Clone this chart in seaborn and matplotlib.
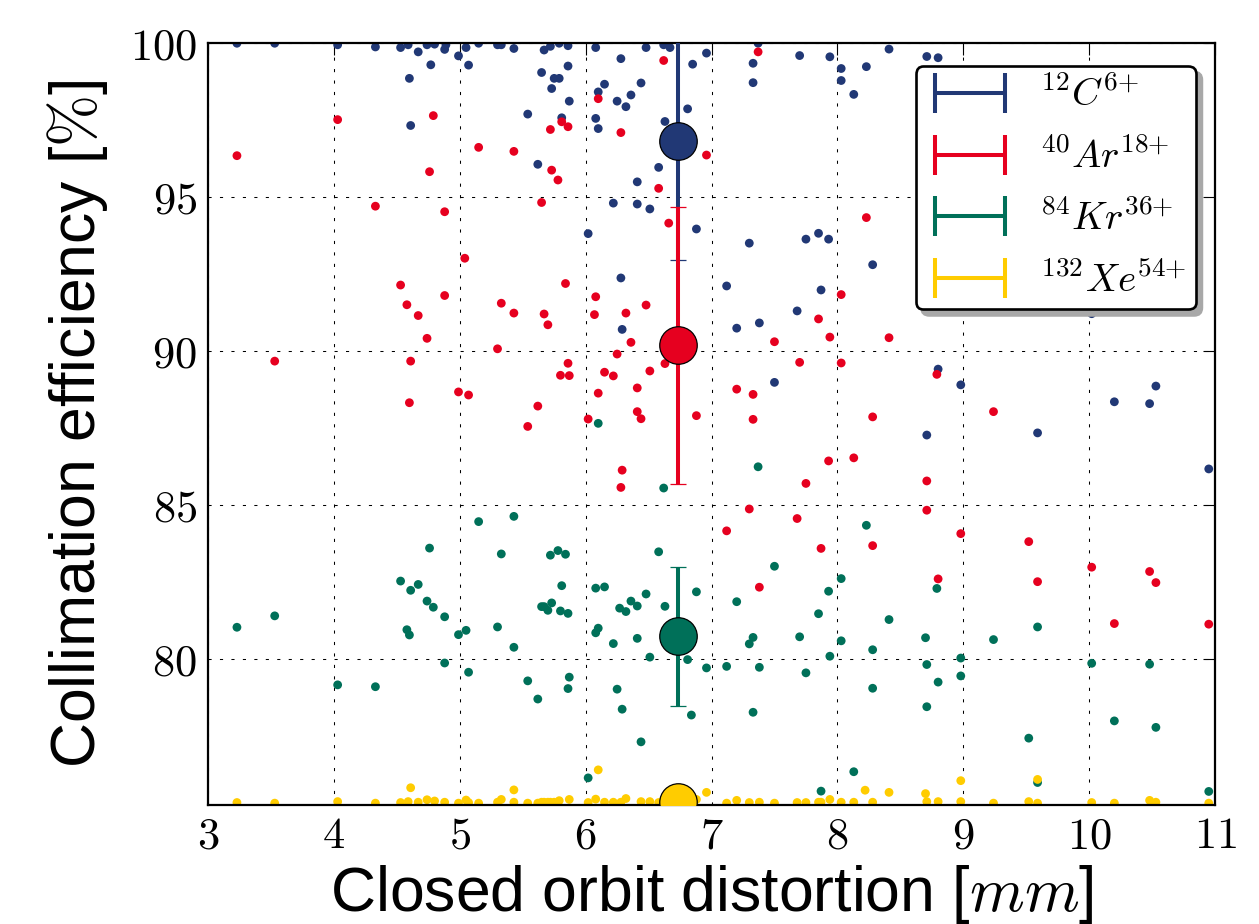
import numpy as np
import pandas as pd
import matplotlib
matplotlib.use("Agg")
import matplotlib.pyplot as plt
from matplotlib.lines import Line2D
from matplotlib.legend_handler import HandlerBase
from matplotlib.ticker import FuncFormatter
import seaborn as sns

# ---- per-seed collimation efficiency (closed orbit distortion [mm], efficiency [%]) ----
carbon_pts = [
    (3.23, 100.0), (3.53, 100.0), (4.03, 99.95), (4.33, 99.88), (4.53, 99.86), (4.59, 99.95),
    (4.60, 98.86), (4.61, 97.33), (4.67, 99.72), (4.74, 99.95), (4.77, 99.30), (4.80, 99.97),
    (4.88, 99.80), (4.89, 99.95), (4.99, 99.59), (5.05, 99.86), (5.07, 99.29), (5.15, 100.0),
    (5.30, 99.95), (5.33, 99.95), (5.43, 99.83), (5.54, 97.70), (5.62, 96.07), (5.65, 99.05),
    (5.67, 99.78), (5.72, 99.90), (5.73, 98.53), (5.75, 98.86), (5.79, 98.86), (5.79, 100.0),
    (5.81, 97.58), (5.86, 99.26), (5.86, 99.92), (5.87, 98.12), (6.02, 93.82), (6.08, 99.86),
    (6.08, 97.56), (6.10, 97.23), (6.10, 98.42), (6.15, 98.67), (6.22, 94.81), (6.25, 98.12),
    (6.28, 99.50), (6.28, 92.38), (6.29, 90.71), (6.32, 97.94), (6.36, 98.32), (6.41, 95.50),
    (6.41, 94.78), (6.44, 98.71), (6.48, 99.86), (6.51, 94.62), (6.58, 95.97), (6.62, 99.95),
    (6.63, 97.46), (6.67, 99.86), (6.81, 97.87), (6.85, 99.32), (6.88, 93.97), (6.96, 99.68),
    (7.12, 92.12), (7.20, 90.75), (7.30, 93.51), (7.33, 99.35), (7.33, 98.72), (7.37, 100.0),
    (7.38, 90.92), (7.50, 88.99), (7.68, 91.31), (7.70, 99.60), (7.75, 93.64), (7.85, 93.83),
    (7.87, 91.99), (7.94, 99.56), (7.93, 93.64), (8.03, 99.18), (8.03, 98.79), (8.13, 98.34),
    (8.23, 99.24), (8.28, 92.81), (8.41, 99.81), (8.71, 99.57), (8.71, 87.28), (8.80, 99.53),
    (8.80, 89.42), (8.98, 88.91), (8.98, 91.65), (9.24, 95.00), (9.52, 93.50), (9.59, 87.35),
    (10.02, 91.22), (10.20, 88.36), (10.48, 88.30), (10.53, 88.87), (10.95, 86.18),
]
argon_pts = [
    (3.23, 96.35), (3.53, 89.68), (4.03, 97.52), (4.33, 94.71), (4.53, 92.15), (4.58, 91.51),
    (4.60, 88.33), (4.61, 89.68), (4.67, 91.16), (4.74, 90.42), (4.76, 95.83), (4.79, 97.65),
    (4.88, 94.53), (4.88, 91.81), (4.99, 88.68), (5.04, 93.02), (5.07, 88.58), (5.15, 96.62),
    (5.30, 90.08), (5.33, 91.56), (5.43, 96.49), (5.43, 91.24), (5.54, 87.56), (5.62, 88.22),
    (5.65, 94.83), (5.67, 91.21), (5.70, 90.86), (5.72, 97.20), (5.73, 95.88), (5.78, 95.56),
    (5.80, 89.22), (5.81, 97.45), (5.84, 92.20), (5.86, 97.29), (5.86, 89.61), (5.87, 89.21),
    (6.02, 87.80), (6.07, 91.19), (6.08, 91.77), (6.10, 88.64), (6.10, 98.20), (6.15, 89.32),
    (6.22, 89.20), (6.25, 89.91), (6.28, 97.10), (6.28, 85.58), (6.29, 86.14), (6.32, 91.24),
    (6.36, 90.29), (6.41, 88.81), (6.41, 88.04), (6.44, 87.81), (6.48, 91.50), (6.51, 89.36),
    (6.58, 95.29), (6.62, 99.44), (6.63, 89.60), (6.66, 94.16), (6.88, 87.91), (6.96, 96.37),
    (7.12, 84.17), (7.20, 88.77), (7.30, 84.88), (7.33, 88.60), (7.33, 87.79), (7.37, 99.72),
    (7.38, 82.34), (7.50, 90.31), (7.68, 84.57), (7.70, 89.64), (7.75, 85.71), (7.85, 91.05),
    (7.87, 83.60), (7.93, 86.44), (7.94, 90.46), (8.03, 91.84), (8.03, 89.62), (8.13, 86.54),
    (8.23, 94.34), (8.28, 87.87), (8.28, 83.69), (8.41, 90.44), (8.71, 85.79), (8.71, 84.84),
    (8.79, 89.25), (8.80, 82.61), (8.98, 84.08), (9.24, 88.04), (9.52, 83.82), (9.59, 82.52),
    (10.02, 82.99), (10.20, 81.16), (10.48, 82.85), (10.53, 82.49), (10.95, 81.14),
]
krypton_pts = [
    (3.23, 81.04), (3.53, 81.41), (4.03, 79.17), (4.33, 79.11), (4.53, 82.54), (4.58, 80.96),
    (4.60, 80.79), (4.61, 82.24), (4.67, 82.43), (4.74, 81.89), (4.76, 83.61), (4.79, 81.69),
    (4.88, 81.38), (4.88, 79.88), (4.99, 80.80), (5.05, 80.94), (5.07, 79.58), (5.15, 84.47),
    (5.30, 81.05), (5.33, 83.42), (5.43, 84.64), (5.43, 80.39), (5.54, 79.30), (5.62, 78.71),
    (5.65, 81.71), (5.67, 81.71), (5.70, 81.59), (5.72, 83.38), (5.73, 81.83), (5.78, 83.53),
    (5.80, 81.57), (5.81, 82.39), (5.84, 83.41), (5.86, 81.49), (5.86, 79.05), (5.87, 79.42),
    (6.02, 76.15), (6.08, 82.31), (6.08, 80.86), (6.10, 81.01), (6.10, 87.66), (6.15, 82.35),
    (6.22, 80.51), (6.25, 79.03), (6.27, 81.66), (6.29, 78.38), (6.32, 81.55), (6.36, 81.89),
    (6.41, 81.73), (6.41, 80.68), (6.44, 77.32), (6.48, 82.12), (6.51, 80.07), (6.58, 83.49),
    (6.62, 85.56), (6.63, 81.72), (6.81, 79.99), (6.84, 78.19), (6.88, 82.19), (6.96, 79.72),
    (7.12, 79.77), (7.20, 81.87), (7.30, 80.50), (7.33, 80.71), (7.33, 78.28), (7.37, 86.25),
    (7.38, 79.74), (7.50, 83.02), (7.70, 80.73), (7.75, 79.56), (7.85, 81.48), (7.87, 75.72),
    (7.93, 82.21), (7.94, 80.10), (8.03, 82.62), (8.03, 80.60), (8.13, 76.35), (8.23, 84.35),
    (8.28, 80.31), (8.28, 79.06), (8.41, 81.29), (8.70, 80.70), (8.71, 79.83), (8.71, 78.46),
    (8.79, 82.30), (8.80, 79.26), (8.98, 80.04), (8.98, 79.46), (9.24, 80.64), (9.52, 77.44),
    (9.59, 81.05), (9.59, 76.00), (10.02, 79.87), (10.20, 78.00), (10.48, 79.84), (10.53, 77.79),
    (10.95, 75.71),
]
xenon_pts = [
    (3.23, 75.35), (3.53, 75.33), (4.03, 75.38), (4.33, 75.33), (4.53, 75.35), (4.59, 75.38),
    (4.61, 75.83), (4.67, 75.36), (4.74, 75.44), (4.80, 75.40), (4.88, 75.36), (4.99, 75.33),
    (5.05, 75.43), (5.07, 75.35), (5.15, 75.33), (5.30, 75.36), (5.33, 75.45), (5.43, 75.76),
    (5.43, 75.36), (5.54, 75.33), (5.62, 75.33), (5.65, 75.36), (5.67, 75.36), (5.70, 75.36),
    (5.72, 75.36), (5.75, 75.36), (5.79, 75.41), (5.87, 75.45), (6.02, 75.35), (6.08, 75.46),
    (6.10, 76.41), (6.15, 75.36), (6.22, 75.36), (6.28, 75.36), (6.32, 75.48), (6.44, 75.38),
    (6.51, 75.38), (6.58, 75.35), (6.88, 75.45), (6.96, 75.68), (7.12, 75.33), (7.20, 75.42),
    (7.30, 75.35), (7.38, 75.36), (7.50, 75.33), (7.68, 75.35), (7.75, 75.35), (7.85, 75.36),
    (7.87, 75.36), (7.94, 75.45), (8.03, 75.36), (8.13, 75.36), (8.22, 75.75), (8.28, 75.36),
    (8.41, 75.68), (8.70, 75.64), (8.71, 75.38), (8.80, 75.38), (8.98, 76.06), (8.98, 75.38),
    (9.24, 75.33), (9.52, 75.38), (9.59, 76.10), (9.59, 75.33), (10.02, 75.35), (10.20, 75.33),
    (10.48, 75.42), (10.53, 75.36), (10.95, 75.33),
]

ion_labels = [r"${}^{12}C^{6{+}}$", r"${}^{40}Ar^{18{+}}$", r"${}^{84}Kr^{36{+}}$",
              r"${}^{132}Xe^{54{+}}$"]
ion_colors = ["#213875", "#E6001F", "#007059", "#FFCC00"]

# mean orbit distortion and mean efficiency +/- one standard deviation per species
mean_cod = [6.735, 6.735, 6.735, 6.735]
mean_eff = [96.83, 90.19, 80.74, 75.38]
std_eff = [3.87, 4.50, 2.26, 0.20]

x_ticks = [3, 4, 5, 6, 7, 8, 9, 10, 11]
y_ticks = [80, 85, 90, 95, 100]

# ---- style ----
sns.set_style("white")
plt.rcParams["font.family"] = ["Liberation Sans", "DejaVu Sans"]
plt.rcParams["mathtext.fontset"] = "cm"
for key in ["text.color", "axes.labelcolor", "xtick.color", "ytick.color"]:
    plt.rcParams[key] = "black"

frames = []
for pts, lab in zip([carbon_pts, argon_pts, krypton_pts, xenon_pts], ion_labels):
    arr = np.array(pts)
    frames.append(pd.DataFrame({"cod": arr[:, 0], "eff": arr[:, 1], "ion": lab}))
df = pd.concat(frames, ignore_index=True)

fig = plt.figure(figsize=(12.59, 9.24), dpi=100)
ax = fig.add_axes([0.1652, 0.1288, 0.7999, 0.8244])

sns.scatterplot(data=df, x="cod", y="eff", hue="ion", hue_order=ion_labels,
                palette=dict(zip(ion_labels, ion_colors)), s=40, linewidth=0,
                legend=False, ax=ax, zorder=2)

for mx, my, sd, c in zip(mean_cod, mean_eff, std_eff, ion_colors):
    ax.errorbar([mx], [my], yerr=[sd], fmt="o", color=c, ms=27, mec="k", mew=0.9,
                ecolor=c, elinewidth=2.9, capsize=5.8, capthick=1.0, zorder=3)

ax.set_xlim(3, 11)
ax.set_ylim(75.27, 100)
ax.set_xticks(x_ticks)
ax.set_yticks(y_ticks)
fmt = FuncFormatter(lambda v, p: f"${v:g}$")
ax.xaxis.set_major_formatter(fmt)
ax.yaxis.set_major_formatter(fmt)
ax.tick_params(direction="in", length=8.6, width=0.8, top=True, right=True,
               labelsize=32, pad=8, colors="k")
ax.grid(True, color="k", linestyle=(0, (3, 8)), linewidth=0.75)
ax.set_axisbelow(True)
for sp in ax.spines.values():
    sp.set_linewidth(1.6)
    sp.set_color("k")

ax.set_xlabel(r"Closed orbit distortion [$mm$]", fontsize=45, labelpad=4, color="k")
ax.set_ylabel(r"Collimation efficiency [$\%$]", fontsize=45, labelpad=14, color="k")


class CapBarHandler(HandlerBase):
    """Horizontal bar with two end caps, as a legend key for the error bars."""

    def create_artists(self, legend, orig_handle, xdescent, ydescent, width, height,
                       fontsize, trans):
        c = orig_handle.get_color()
        lw = orig_handle.get_linewidth()
        lead = 0.117 * width
        x0, x1 = -xdescent + lead, -xdescent + width
        ym = -ydescent + height / 2
        half = 14.4
        kw = dict(color=c, lw=lw, solid_capstyle="butt", transform=trans)
        return [Line2D([x0, x0], [ym - half, ym + half], **kw),
                Line2D([x1, x1], [ym - half, ym + half], **kw),
                Line2D([x0, x1], [ym, ym], **kw)]


handles = [Line2D([], [], color=c, lw=2.9, label=l) for c, l in zip(ion_colors, ion_labels)]
leg = ax.legend(handles=handles, handler_map={Line2D: CapBarHandler()},
                loc="upper right", bbox_to_anchor=(0.981, 0.970), borderaxespad=0,
                fontsize=28, handlelength=2.04, handletextpad=0.9, labelspacing=0.6,
                borderpad=0.25, fancybox=True, framealpha=1,
                shadow={"ox": 4.3, "oy": -4.3, "facecolor": "0.66", "edgecolor": "0.66",
                        "alpha": 1.0})
leg.get_frame().set_edgecolor("k")
leg.get_frame().set_linewidth(1.9)

fig.savefig("out.png", dpi=100)
